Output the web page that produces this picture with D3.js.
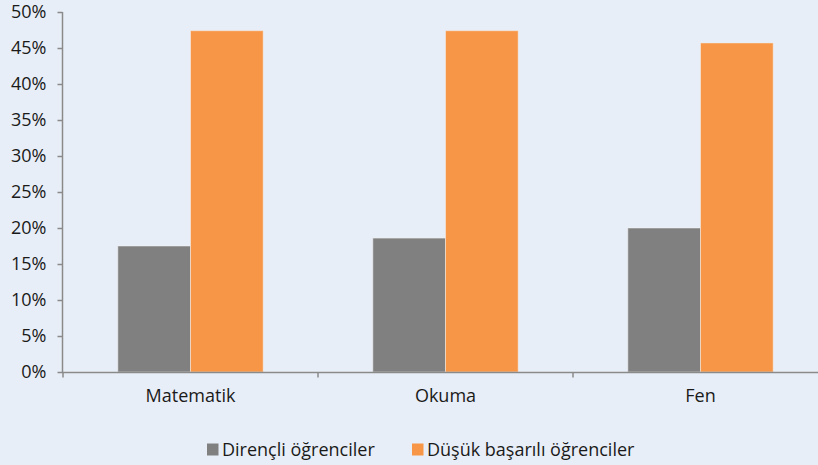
<!DOCTYPE html>
<html>
<head>
<meta charset="utf-8">
<script src="https://cdn.jsdelivr.net/npm/d3@7"></script>
<style>
  html, body { margin: 0; padding: 0; background: #e8eef7; }
  svg { display: block; }
  text { font-family: "Open Sans", sans-serif; fill: #1a1a1a; }
</style>
</head>
<body>
<svg id="chart" width="818" height="465"></svg>
<script>
const categories = ["Matematik", "Okuma", "Fen"];
const seriesNames = ["Dirençli öğrenciler", "Düşük başarılı öğrenciler"];
const resilient = [17.5, 18.6, 20.0];
const lowAchievers = [47.4, 47.4, 45.7];
const yTicks = [0, 5, 10, 15, 20, 25, 30, 35, 40, 45, 50];
const colors = ["#808080", "#f79646"];

const svg = d3.select("#chart");
const W = 818, H = 465;
svg.append("rect").attr("width", W).attr("height", H).attr("fill", "#e8eef7");

const x0 = d3.scaleBand().domain(categories).range([63, 828]).paddingInner(0.43).paddingOuter(0.215);
const x1 = d3.scaleBand().domain(seriesNames).range([0, x0.bandwidth()]);
const y = d3.scaleLinear().domain([0, 50]).range([372, 12]);

const data = categories.map((c, i) => ({cat: c, vals: [resilient[i], lowAchievers[i]]}));

// bars
const g = svg.append("g");
data.forEach(d => {
  d.vals.forEach((v, j) => {
    g.append("rect")
      .attr("x", x0(d.cat) + x1(seriesNames[j]))
      .attr("y", y(v))
      .attr("width", x1.bandwidth())
      .attr("height", y(0) - y(v))
      .attr("fill", colors[j])
      .attr("stroke", "#f4f4f4")
      .attr("stroke-opacity", 0.5)
      .attr("stroke-width", 1);
  });
});

// y axis
const yAxis = d3.axisLeft(y).tickValues(yTicks).tickFormat(d => d + "%").tickSize(5).tickPadding(11);
const ya = svg.append("g").attr("transform", "translate(62.5,0)").call(yAxis);
ya.select(".domain").attr("stroke", "#8a8a8a").attr("stroke-width", 1.5).attr("d", "M0,12V372");
ya.selectAll(".tick line").attr("stroke", "#8a8a8a").attr("stroke-width", 1.5);
ya.selectAll(".tick text").style("font-size", "18px").style("font-family", "'Open Sans', sans-serif").attr("fill", "#1a1a1a");

// x axis
const xa = svg.append("g").attr("transform", "translate(0,372.5)");
xa.append("line").attr("x1", 62).attr("x2", W).attr("y1", 0).attr("y2", 0)
  .attr("stroke", "#8a8a8a").attr("stroke-width", 1.5);
const bounds = categories.map(c => x0(c) - x0.step() * 0.215);
bounds.forEach(b => {
  xa.append("line").attr("x1", b).attr("x2", b).attr("y1", 0).attr("y2", 5)
    .attr("stroke", "#8a8a8a").attr("stroke-width", 1.5);
});
categories.forEach(c => {
  xa.append("text")
    .attr("x", x0(c) + x0.bandwidth() / 2)
    .attr("y", 29)
    .attr("text-anchor", "middle")
    .style("font-size", "18px")
    .text(c);
});

// legend
const legendItems = [
  {name: seriesNames[0], color: colors[0], x: 207},
  {name: seriesNames[1], color: colors[1], x: 412}
];
legendItems.forEach(it => {
  svg.append("rect").attr("x", it.x).attr("y", 443.5).attr("width", 11.5).attr("height", 12).attr("fill", it.color);
  svg.append("text").attr("x", it.x + 15).attr("y", 455.5).style("font-size", "18px").text(it.name);
});
</script>
</body>
</html>
